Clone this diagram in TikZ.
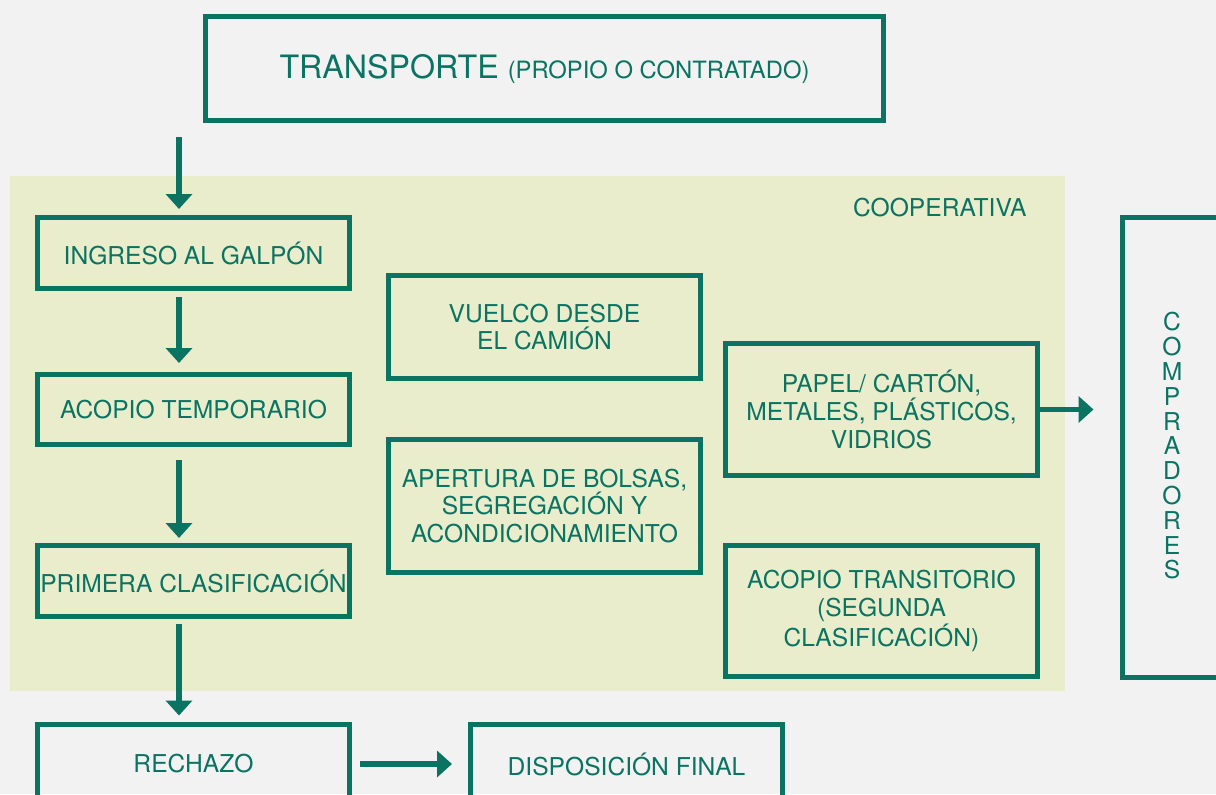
\documentclass[tikz,border=0pt]{standalone}
\usepackage{fontspec}
\setmainfont{TeX Gyre Heros}
\usetikzlibrary{arrows.meta,calc}
\definecolor{teal}{RGB}{10,115,98}
\definecolor{pagebg}{RGB}{242,242,242}
\definecolor{coopbg}{RGB}{233,237,204}
\tikzset{
  boxnode/.style={draw=teal, line width=2.5pt, inner sep=0pt, text=teal, align=center,
    font=\fontsize{12.3}{13.8}\selectfont, minimum width=156pt},
  arr/.style={draw=teal, line width=2.8pt, -{Triangle[width=13pt,length=7.5pt]}},
}
\begin{document}
\begin{tikzpicture}[x=0.5pt,y=-0.5pt]
\fill[pagebg] (0,0) rectangle (1216,794);
\useasboundingbox (0,0) rectangle (1216,794);
\clip (0,0) rectangle (1216,794);
% cooperativa area
\fill[coopbg] (10,176) rectangle (1065,691);
\node[text=teal, font=\fontsize{12.3}{13.8}\selectfont, anchor=east, inner sep=0pt] (coop) at (1027,208) {COOPERATIVA};
% boxes
\node[boxnode, minimum width=339pt, minimum height=52pt] (tr) at (544.5,68.5)
  {\fontsize{16.1}{18}\selectfont TRANSPORTE {\fontsize{11.9}{13}\selectfont(PROPIO O CONTRATADO)}};
\node[boxnode, minimum height=35.5pt] (ing) at (193.5,253) {INGRESO AL GALPÓN};
\node[boxnode, minimum height=35pt] (aco) at (193.5,409.5) {ACOPIO TEMPORARIO};
\node[boxnode, minimum height=35.5pt] (pri) at (193.5,581) {PRIMERA CLASIFICACIÓN};
\node[boxnode, minimum height=40pt] (rec) at (193.5,764) {RECHAZO};
\node[boxnode, minimum height=40pt] (dis) at (626.5,764) {DISPOSICIÓN FINAL};
\node[boxnode, minimum height=51.5pt] (vue) at (544.5,327) {VUELCO DESDE\\EL CAMIÓN};
\node[boxnode, minimum height=66.5pt] (ape) at (544.5,506) {APERTURA DE BOLSAS,\\SEGREGACIÓN Y\\ACONDICIONAMIENTO};
\node[boxnode, minimum height=66pt] (pap) at (881.5,409.5) {PAPEL/ CARTÓN,\\METALES, PLÁSTICOS,\\VIDRIOS};
\node[boxnode, minimum height=65.5pt] (act) at (881.5,611) {ACOPIO TRANSITORIO\\(SEGUNDA\\CLASIFICACIÓN)};
\node[boxnode, minimum width=58pt, minimum height=230pt] (com) at (1180,447.5) {};
\node[text=teal, align=center, inner sep=0pt, font=\fontsize{12.3}{12.4}\selectfont] (comtxt) at (1172,446)
  {C\\O\\M\\P\\R\\A\\D\\O\\R\\E\\S};
% connectors
\coordinate (colx) at (179,0);
\draw[arr] ([yshift=-7pt]tr.south -| colx) -- ([yshift=3pt]ing.north -| colx);
\draw[arr] ([yshift=-3pt]ing.south -| colx) -- ([yshift=4.5pt]aco.north -| colx);
\draw[arr] ([yshift=-6.5pt]aco.south -| colx) -- ([yshift=2.5pt]pri.north -| colx);
\draw[arr] ([yshift=-2.5pt]pri.south -| colx) -- ([yshift=3pt]rec.north -| colx);
\draw[arr] ([xshift=4pt]rec.east) -- ([xshift=-8pt]dis.west);
\draw[arr] (pap.east) -- ([xshift=-13pt]pap.east -| com.west);
\end{tikzpicture}
\end{document}
